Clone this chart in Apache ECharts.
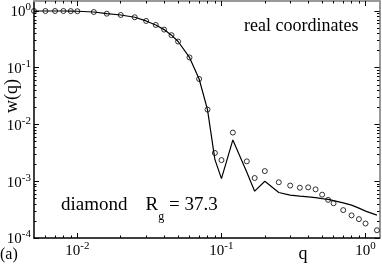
<!DOCTYPE html>
<html><head><meta charset="utf-8">
<script src="https://cdn.jsdelivr.net/npm/echarts@6/dist/echarts.min.js"></script>
<style>html,body{margin:0;padding:0;background:#fff}#c{width:382px;height:267px}</style>
</head><body><div id="c"></div>
<script>
const qValues = [0.005,0.006,0.007,0.008,0.009,0.01,0.013,0.016,0.02,0.025,0.03,0.035,0.04,0.045,0.05,0.06,0.07,0.08,0.09,0.1,0.12,0.15,0.17,0.2,0.25,0.3,0.35,0.4,0.45,0.5,0.55,0.6,0.7,0.8,0.9,1.0,1.2];
const wPoints = [1.0,1.0,1.0,1.0,0.995,0.99,0.96,0.897,0.85,0.775,0.668,0.568,0.47,0.375,0.29,0.152,0.0634,0.0183,0.00315,0.00236,0.0072,0.00224,0.00114,0.00151,0.00096,0.00084,0.00077,0.00078,0.00072,0.00058,0.00047,0.00041,0.00031,0.00025,0.000215,0.00018,0.000137];
const wLine = [1.0,1.0,1.0,1.0,0.995,0.99,0.96,0.897,0.85,0.775,0.668,0.568,0.47,0.375,0.29,0.152,0.0634,0.0183,0.00243,0.00111,0.00535,0.00144,0.000668,0.001,0.000634,0.000568,0.000545,0.00053,0.000514,0.000494,0.000478,0.000455,0.000416,0.000379,0.000336,0.000298,0.000253];
const xMajorTicks = [0.01, 0.1, 1];
const yMajorTicks = [1e-4, 1e-3, 1e-2, 1e-1, 1];
const xMin = 0.005, xMax = 1.25, yMin = 1e-4, yMax = 1.5;

function minorTicks(lo, hi) {
  const out = [];
  for (let e = -5; e <= 1; e++) {
    for (let m = 2; m <= 9; m++) {
      const v = m * Math.pow(10, e);
      if (v > lo * 1.0001 && v < hi * 0.9999) out.push(v);
    }
  }
  return out;
}
const xMinorTicks = minorTicks(xMin, xMax);
const yMinorTicks = minorTicks(yMin, yMax);

const FONT = '"Liberation Serif", "DejaVu Serif", serif';
const rich = {
  b: {fontFamily: FONT, fontSize: 15, color: '#000', lineHeight: 18, verticalAlign: 'bottom'},
  s: {fontFamily: FONT, fontSize: 11, color: '#000', lineHeight: 18, verticalAlign: 'top', padding: [0,0,6,0]}
};
function powLabel(v) {
  const e = Math.round(Math.log10(v));
  return '{b|10}{s|' + e + '}';
}

function mkAxis(pos, major, isMajor, showLabel, lineColor, lineW, min, max, showLine) {
  return {
    type: 'log', logBase: 10, min: min, max: max, position: pos,
    splitLine: {show: false}, minorTick: {show: false},
    axisLine: {show: showLine, lineStyle: {color: lineColor, width: lineW}},
    axisTick: {show: true, inside: true, length: isMajor ? 5 : 2.5, customValues: major,
      lineStyle: {color: '#000', width: 1}},
    axisLabel: showLabel ? {show: true, customValues: major, formatter: powLabel, rich: rich, margin: 3} : {show: false}
  };
}

const chart = echarts.init(document.getElementById('c'), null, {renderer: 'canvas'});
chart.setOption({
  animation: false,
  backgroundColor: '#fff',
  grid: {left: 34, right: 2.5, top: 1, bottom: 29},
  xAxis: [
    mkAxis('bottom', xMajorTicks, true, true, '#000', 1.5, xMin, xMax, true),
    mkAxis('bottom', xMinorTicks, false, false, '#000', 1.5, xMin, xMax, false),
    mkAxis('top', xMajorTicks, true, false, '#999', 2, xMin, xMax, true),
    mkAxis('top', xMinorTicks, false, false, '#999', 2, xMin, xMax, false)
  ],
  yAxis: [
    mkAxis('left', yMajorTicks, true, true, '#000', 1.5, yMin, yMax, true),
    mkAxis('left', yMinorTicks, false, false, '#000', 1.5, yMin, yMax, false),
    mkAxis('right', yMajorTicks, true, false, '#999', 2, yMin, yMax, true),
    mkAxis('right', yMinorTicks, false, false, '#999', 2, yMin, yMax, false)
  ],
  series: [
    {type: 'line', data: qValues.map((q, i) => [q, wLine[i]]), showSymbol: false, symbol: 'none',
     lineStyle: {color: '#000', width: 1.2}, clip: true, z: 2},
    {type: 'scatter', data: qValues.map((q, i) => [q, wPoints[i]]), symbol: 'circle', symbolSize: 5,
     itemStyle: {color: 'rgba(0,0,0,0)', borderColor: '#000', borderWidth: 1}, clip: false, z: 3}
  ],
  graphic: [
    {type: 'text', x: 244, y: 26, style: {text: 'real coordinates', font: '18px ' + FONT, fill: '#000', verticalAlign: 'middle'}},
    {type: 'text', x: 61, y: 196, style: {
      text: '{t|diamond}{sp|    }{t|R}{g|g}{t| = 37.3}',
      rich: {
        t: {font: '19px ' + FONT, fill: '#000', lineHeight: 22, verticalAlign: 'top'},
        sp: {font: '18px ' + FONT, lineHeight: 22},
        g: {font: '12px ' + FONT, fill: '#000', lineHeight: 22, verticalAlign: 'bottom', padding: [0,0,-5,0]}
      }}},
    {type: 'text', x: 12, y: 96, rotation: Math.PI / 2,
     style: {text: 'w(q)', font: '18px ' + FONT, fill: '#000', align: 'center', verticalAlign: 'middle'}},
    {type: 'text', x: 303, y: 254, style: {text: 'q', font: '18px ' + FONT, fill: '#000', align: 'center', verticalAlign: 'middle'}},
    {type: 'text', x: 0, y: 255, style: {text: '(a)', font: '16px ' + FONT, fill: '#000', verticalAlign: 'middle'}}
  ]
});
</script></body></html>
